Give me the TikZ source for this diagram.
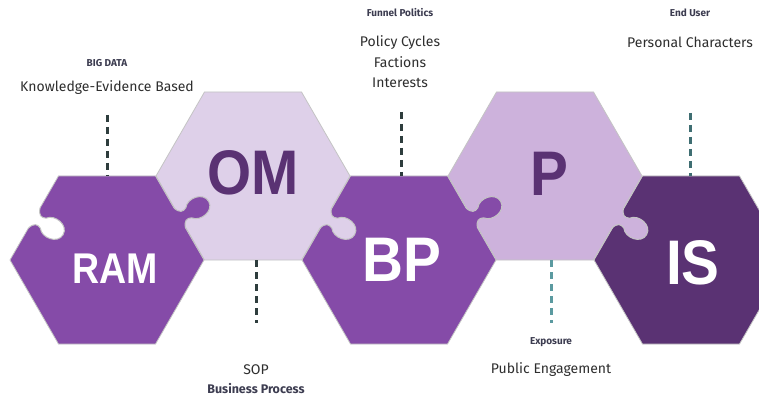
\documentclass[tikz,border=0pt]{standalone}
\usepackage{fontspec}
\setmainfont{Fira Sans}
\newfontfamily\hexfont{Liberation Sans}
\usetikzlibrary{shapes.geometric}
\definecolor{ramc}{HTML}{854BA8}
\definecolor{omc}{HTML}{DED0E9}
\definecolor{pc}{HTML}{CDB2DC}
\definecolor{isc}{HTML}{5A3273}
\definecolor{txtc}{HTML}{2E2E2E}
\definecolor{smallc}{HTML}{3C3C50}
\definecolor{dashdark}{HTML}{2E3D3D}
\definecolor{dashteal}{HTML}{3F6E72}
\definecolor{dashlight}{HTML}{5B9AA0}
\definecolor{edgec}{HTML}{C4C4C4}
\tikzset{
  hexa/.style={regular polygon, regular polygon sides=6,
    minimum size=194pt, inner sep=0pt, outer sep=0pt, draw=edgec, line width=0.8pt},
  edgeline/.style={draw=edgec, line width=1pt},
  pics/knob/.style={code={
    \fill[#1] (-10,-2.5) -- (-10,0) .. controls (-4,2) and (-3,5) .. (-5,9)
      .. controls (-12,14) and (-9.5,29) .. (0,29) .. controls (9.5,29) and (12,14) .. (5,9)
      .. controls (3,5) and (4,2) .. (10,0) -- (10,-2.5) -- cycle;
    \draw[edgeline] (-10,0) .. controls (-4,2) and (-3,5) .. (-5,9)
      .. controls (-12,14) and (-9.5,29) .. (0,29) .. controls (9.5,29) and (12,14) .. (5,9)
      .. controls (3,5) and (4,2) .. (10,0);
  }},
  bigletter/.style={font=\hexfont\bfseries\fontsize{63}{63}\selectfont, xscale=0.9, inner sep=0pt},
  lbl/.style={font=\fontsize{14}{20.5}\selectfont, text=txtc, align=center, inner sep=0pt},
  smallbold/.style={font=\bfseries\fontsize{10}{12}\selectfont, text=smallc, inner sep=0pt},
  dashline/.style={line width=3pt, dash pattern=on 7pt off 5pt},
}
\begin{document}
\begin{tikzpicture}[x=1pt,y=1pt]
\useasboundingbox (0,0) rectangle (759,399);
\clip (0,0) rectangle (759,399);
\fill[white] (0,0) rectangle (759,399);
% hexagons (drawn right to left so knobs overlap correctly)
\node[hexa, fill=isc] (is) at (691,139) {};
\node[hexa, fill=pc] (p) at (545,223) {};
\node[hexa, fill=ramc] (bp) at (399,139) {};
\node[hexa, fill=omc] (om) at (253,223) {};
\node[hexa, fill=ramc] (ram) at (107,139) {};
% puzzle knobs
\pic[rotate=-60, scale=1.15] at (ram.30) {knob=ramc};
\pic[rotate=-120, scale=1.15] at (om.-30) {knob=omc};
\pic[rotate=-60, scale=1.15] at (bp.30) {knob=ramc};
\pic[rotate=-120, scale=1.15] at (p.-30) {knob=pc};
\pic[rotate=-120, scale=1.15] at (ram.150) {knob=white};
% big letters
\node[bigletter, text=white, font=\hexfont\bfseries\fontsize{43}{43}\selectfont, xscale=0.97] (ramt) at (115,130) {RAM};
\node[bigletter, text=isc] (omt) at (253,226) {OM};
\node[bigletter, text=white] (bpt) at (402,139) {BP};
\node[bigletter, text=isc] (pt) at (549,225.5) {P};
\node[bigletter, text=white] (ist) at (693,136) {IS};
% labels
\node[smallbold] (bigdata) at (107,336) {BIG DATA};
\node[lbl] (keb) at (107,311) {Knowledge-Evidence Based};
\node[smallbold] (funnel) at (400,386) {Funnel Politics};
\node[lbl] (policy) at (400,337) {Policy Cycles\\Factions\\Interests};
\node[smallbold] (enduser) at (690,386) {End User};
\node[lbl] (personal) at (690,357) {Personal Characters};
\node[lbl] (sop) at (256,29) {SOP};
\node[smallbold, font=\bfseries\fontsize{12.5}{14}\selectfont] (business) at (256,10) {Business Process};
\node[smallbold] (exposure) at (551,57) {Exposure};
\node[lbl] (public) at (551,29) {Public Engagement};
% dashed connectors
\coordinate (d1) at (107,284);
\coordinate (d2) at (401,287);
\coordinate (d3) at (690,286);
\coordinate (d4) at (256,76);
\coordinate (d5) at (551,76);
\draw[dashline, draw=dashdark] (d1) -- (d1 |- ram.north);
\draw[dashline, draw=dashdark] (d2) -- (d2 |- bp.north);
\draw[dashline, draw=dashteal] (d3) -- (d3 |- is.north);
\draw[dashline, draw=dashdark] (d4 |- om.south) -- (d4);
\draw[dashline, draw=dashlight] (d5 |- p.south) -- (d5);
\end{tikzpicture}
\end{document}
